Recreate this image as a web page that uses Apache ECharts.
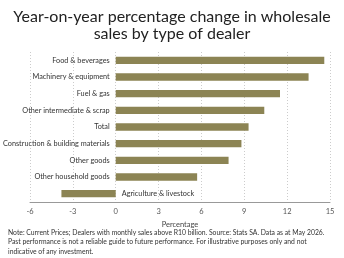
<!DOCTYPE html>
<html>
<head>
<meta charset="utf-8">
<script src="https://cdn.jsdelivr.net/npm/echarts@6/dist/echarts.min.js"></script>
<style>
  html, body { margin: 0; padding: 0; background: #fff; }
  #chart { width: 344px; height: 258px; }
</style>
</head>
<body>
<div id="chart"></div>
<script>
// dealer types, top to bottom
const dealers = [
  "Food & beverages",
  "Machinery & equipment",
  "Fuel & gas",
  "Other intermediate & scrap",
  "Total",
  "Construction & building materials",
  "Other goods",
  "Other household goods",
  "Agriculture & livestock"
];
// year-on-year change, %
const yoyChange = [14.6, 13.5, 11.5, 10.4, 9.3, 8.8, 7.9, 5.7, -3.8];
const xTicks = [-6, -3, 0, 3, 6, 9, 12, 15];

const note = [
  "Note: Current Prices; Dealers with monthly sales above R10 billion. Source: Stats SA. Data as at May 2026.",
  "Past performance is not a reliable guide to future performance. For illustrative purposes only and not",
  "indicative of any investment."
];

const chart = echarts.init(document.getElementById("chart"));

// label goes on the zero side of each bar
const barData = yoyChange.map((v) => ({
  value: v,
  label: { position: v < 0 ? "right" : "left" }
}));

chart.setOption({
  animation: false,
  textStyle: { fontFamily: "Lato" },
  title: {
    text: "Year-on-year percentage change in wholesale\nsales by type of dealer",
    left: "center",
    top: 3,
    textStyle: {
      fontFamily: "Lato",
      fontSize: 16,
      fontWeight: "normal",
      color: "#222",
      lineHeight: 17
    }
  },
  graphic: [{
    type: "text",
    left: 8,
    top: 228,
    style: {
      text: note.join("\n"),
      fontFamily: "Lato",
      fontSize: 6.8,
      lineHeight: 9.5,
      fill: "#333"
    }
  }],
  grid: { left: 30, right: 14, top: 52, bottom: 56 },
  xAxis: {
    type: "value",
    min: xTicks[0],
    max: xTicks[xTicks.length - 1],
    interval: 3,
    name: "Percentage",
    nameLocation: "middle",
    nameGap: 13,
    nameTextStyle: { fontSize: 7.5, color: "#444" },
    axisLine: { show: true, lineStyle: { color: "#999", width: 1 } },
    axisTick: { show: false },
    axisLabel: { fontSize: 7.5, color: "#555", margin: 6 },
    splitLine: { show: true, lineStyle: { color: "#ccc", type: [1, 2], width: 1 } }
  },
  yAxis: {
    type: "category",
    data: dealers,
    inverse: true,
    axisLine: { show: false },
    axisTick: { show: false },
    axisLabel: { show: false },
    splitLine: { show: false }
  },
  series: [{
    type: "bar",
    data: barData,
    barWidth: "44%",
    itemStyle: { color: "#8c8454" },
    label: {
      show: true,
      formatter: (p) => dealers[p.dataIndex],
      fontSize: 7.3,
      color: "#333",
      distance: 6
    }
  }]
});
</script>
</body>
</html>
